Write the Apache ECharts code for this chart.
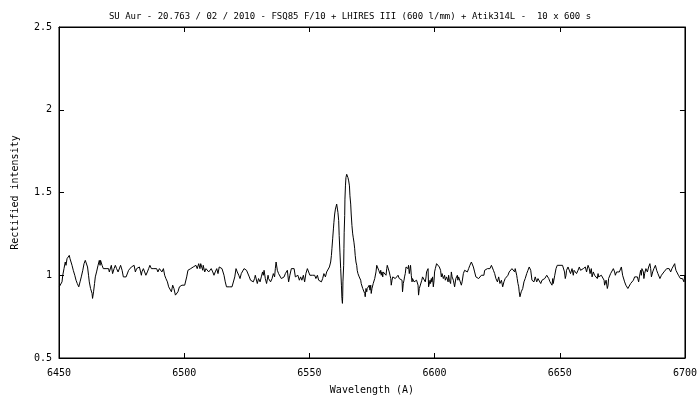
<!DOCTYPE html>
<html><head><meta charset="utf-8">
<script src="https://cdn.jsdelivr.net/npm/echarts@6/dist/echarts.min.js"></script>
<style>html,body{margin:0;padding:0;background:#fff}#c{width:700px;height:400px}</style>
</head><body><div id="c"></div>
<script>
const titleText = "SU Aur - 20.763 / 02 / 2010 - FSQ85 F/10 + LHIRES III (600 l/mm) + Atik314L -  10 x 600 s";
const xAxisName = "Wavelength (A)";
const yAxisName = "Rectified intensity";
const xTicks = [6450, 6500, 6550, 6600, 6650, 6700];
const yTicks = [0.5, 1, 1.5, 2, 2.5];

const wavelength = [
6450.1,6450.7,6451.2,6451.5,6452.0,6452.5,6452.8,6453.2,6453.6,6454.1,6454.4,6454.8,6455.2,6455.7,6456.3,6456.8,6457.3,6457.9,6458.4,6458.9,
6459.5,6460.0,6460.5,6461.0,6461.4,6461.8,6462.1,6462.6,6463.2,6463.4,6463.8,6464.2,6464.5,6465.0,6465.6,6466.1,6466.4,6466.6,6467.2,6467.7,
6468.2,6468.8,6469.3,6469.8,6470.1,6470.5,6470.9,6471.4,6472.0,6472.5,6473.0,6473.6,6474.1,6474.6,6475.2,6475.7,6476.2,6476.8,6477.3,6477.8,
6478.4,6478.9,6479.4,6480.0,6480.5,6481.0,6481.5,6482.1,6482.6,6482.9,6483.1,6483.7,6484.2,6484.7,6485.3,6485.8,6486.3,6486.9,6487.4,6487.9,
6488.5,6489.0,6489.5,6490.1,6490.6,6491.1,6491.7,6492.2,6492.7,6493.3,6493.8,6494.3,6494.9,6495.4,6495.9,6496.5,6497.0,6497.5,6498.1,6498.6,
6499.1,6499.7,6500.2,
6500.5,6501.0,6501.5,6502.1,6502.6,6503.1,6503.6,6504.2,6504.7,6505.2,6505.8,6506.3,6506.6,6506.8,6507.1,6507.4,6507.6,6508.2,6508.7,6509.2,
6509.8,6510.3,6510.8,6511.4,6511.9,6512.4,6513.0,6513.5,6514.0,6514.6,6515.1,6515.6,6515.9,6516.4,6516.9,6517.5,6518.0,6518.6,6519.1,6519.6,
6520.2,6520.7,6520.9,6521.2,6521.8,6522.3,6522.8,6523.3,6523.9,6524.4,6524.9,6525.5,6526.0,6526.5,6527.1,6527.6,6528.1,6528.4,6528.7,6529.2,
6529.7,6530.3,6530.8,6531.3,6531.6,6531.9,6532.4,6532.9,6533.2,6533.5,6533.7,6534.0,6534.5,6535.1,6535.6,6536.1,6536.4,6536.7,6536.9,6537.2,
6537.7,6538.3,6538.8,6539.3,6539.9,6540.4,6540.7,6541.2,6541.7,6542.2,6542.8,6543.3,6543.9,6544.4,6544.9,6545.4,6546.0,6546.5,6547.0,6547.6,
6548.1,6548.6,6549.2,6549.7,6550.2,6550.8,6551.3,
6551.6,6552.1,6552.6,6553.2,6553.7,6554.2,6554.8,6555.3,6555.8,6556.4,6556.9,6557.4,6558.0,6558.5,6558.8,6559.0,6559.3,6559.6,6559.8,6560.1,
6560.4,6560.6,6560.9,6561.2,6561.4,6561.7,6561.9,6562.2,6562.5,6562.8,6563.0,6563.2,6563.3,6563.4,6563.7,6563.8,6563.9,6564.1,6564.2,6564.4,
6564.6,6564.9,6565.2,6565.4,6565.7,6566.0,6566.2,6566.5,6566.7,6567.0,6567.3,6567.5,6567.8,6568.1,6568.3,6568.6,6568.9,6569.1,6569.4,6569.7,
6569.9,6570.2,6570.5,6570.7,6571.0,6571.3,6571.5,6571.8,6572.1,6572.3,6572.6,6572.9,6573.1,6573.4,6573.7,6573.9,6574.2,6574.5,6574.7,6575.0,
6575.5,6576.1,6576.6,6576.9,6577.1,6577.4,6577.7,6577.9,6578.2,6578.5,6578.7,6579.0,6579.3,6579.5,6579.8,6580.1,6580.6,6580.9,6581.1,6581.4,
6581.7,6581.9,6582.2,6582.5,6582.7,6583.0,6583.3,6583.8,6584.3,6584.9,6585.4,6585.9,6586.4,6587.0,6587.2,6587.5,6587.8,6588.0,6588.3,6588.6,
6588.8,6589.1,6589.4,6589.6,6589.9,6590.2,6590.4,6590.7,6591.0,6591.2,6591.5,6591.8,6592.3,6592.8,6593.4,6593.6,6593.9,6594.4,6594.9,6595.2,
6595.8,6596.3,6596.6,6596.8,6597.1,6597.4,6597.6,6597.9,6598.2,6598.4,6598.7,6598.9,6599.2,6599.5,6599.8,6600.0,6600.3,
6600.8,6601.4,6601.9,6602.4,6602.7,6603.0,6603.5,6604.0,6604.3,6604.8,6605.4,6605.6,6605.9,6606.4,6606.7,6607.0,6607.5,6608.0,6608.5,6609.1,
6609.3,6609.6,6610.1,6610.7,6611.0,6611.5,6612.0,6612.5,6613.1,6613.6,6614.1,6614.7,6615.2,6615.5,6616.0,6616.5,6617.1,6617.6,6618.1,6618.7,
6619.2,6619.7,6620.0,6620.5,6621.1,6621.6,6622.1,6622.7,6623.2,6623.5,6624.0,6624.5,6625.1,6625.6,6626.1,6626.7,6627.2,6627.7,6628.2,6628.8,
6629.3,6629.8,6630.4,6630.9,6631.4,6632.0,6632.2,6632.5,6632.8,6633.0,6633.3,6633.6,6633.8,6634.1,6634.4,6634.6,6635.2,6635.7,6636.2,6636.8,
6637.3,6637.8,6638.4,6638.6,6638.9,6639.4,6639.7,6640.2,6640.8,6641.3,6641.8,6642.4,6642.9,6643.4,6644.0,6644.5,6644.8,6645.0,6645.6,6646.1,
6646.6,6646.9,6647.2,6647.4,6648.0,6648.5,6649.0,6649.5,6650.1,6650.6,6651.1,
6651.4,6651.9,6652.2,6652.5,6652.7,6653.3,6653.8,6654.3,6654.9,6655.4,6655.7,6656.2,6656.7,6657.3,6657.8,6658.3,6658.9,6659.4,6659.7,6660.2,
6660.7,6661.3,6661.5,6661.8,6662.1,6662.6,6662.9,6663.4,6663.9,6664.5,6665.0,6665.3,6665.5,6666.1,6666.6,6667.1,6667.7,6667.9,6668.2,6668.5,
6669.0,6669.3,6669.5,6670.0,6670.3,6670.8,6671.4,6671.9,6672.2,6672.7,6673.2,6673.8,6674.3,6674.6,6674.8,6675.1,6675.4,6675.9,6676.2,6676.4,
6677.0,6677.2,6677.8,6678.3,6678.8,6679.4,6679.9,6680.4,6681.0,6681.5,6681.8,6682.3,6682.6,6682.8,6683.4,6683.6,6683.9,6684.4,6685.0,6685.5,
6686.0,6686.3,6686.6,6687.1,6687.6,6688.2,6688.7,6689.2,6689.8,6690.0,6690.6,6691.1,6691.6,6692.2,6692.7,6693.2,6693.7,6694.3,6694.8,6695.3,
6695.9,6696.1,6696.4,6696.9,6697.4,6698.0,6698.2,6698.5,6699.0,6699.6,6699.9
];
const intensity = [
0.93,0.94,0.96,1.00,1.04,1.08,1.06,1.10,1.09,1.12,1.10,1.08,1.06,1.03,1.00,0.97,0.95,0.93,0.96,0.99,
1.03,1.07,1.09,1.08,1.05,1.00,0.96,0.92,0.89,0.86,0.90,0.95,0.99,1.02,1.06,1.09,1.06,1.09,1.06,1.04,
1.05,1.04,1.05,1.04,1.02,1.03,1.06,1.01,1.04,1.06,1.04,1.02,1.03,1.06,1.03,0.99,1.00,0.99,1.00,1.03,
1.04,1.05,1.04,1.06,1.02,1.04,1.04,1.05,1.02,1.00,1.02,1.04,1.02,1.00,1.02,1.04,1.06,1.04,1.04,1.04,
1.03,1.04,1.02,1.04,1.03,1.02,1.04,1.00,0.98,0.96,0.93,0.92,0.90,0.94,0.92,0.88,0.87,0.90,0.93,0.94,
0.94,0.95,0.94,
0.95,0.99,1.03,1.02,1.04,1.03,1.05,1.04,1.06,1.04,1.07,1.04,1.07,1.06,1.08,1.03,1.06,1.02,1.04,1.05,
1.02,1.03,1.04,1.02,1.00,1.02,1.04,1.01,1.05,1.06,1.04,1.04,1.00,0.96,0.93,0.92,0.93,0.92,0.93,0.94,
0.99,1.04,1.05,1.02,1.00,0.98,1.01,1.02,1.04,1.04,1.03,1.02,0.99,0.97,0.96,0.96,0.98,1.00,0.99,0.95,
0.98,0.96,0.99,1.02,1.00,1.03,0.98,0.95,0.96,1.00,0.98,0.99,0.96,0.98,1.01,0.99,1.04,1.08,1.07,1.03,
1.01,1.00,0.98,0.97,0.99,1.01,1.00,1.03,0.96,1.00,1.04,1.05,1.04,0.99,0.98,1.00,0.97,0.99,0.97,1.00,
0.96,1.01,1.04,1.03,1.00,1.00,1.00,
1.01,1.00,0.98,1.00,0.97,0.98,0.96,0.98,1.01,0.99,1.02,1.01,1.05,1.08,1.12,1.16,1.22,1.28,1.32,1.37,
1.40,1.41,1.43,1.40,1.38,1.33,1.24,1.14,1.04,0.94,0.86,0.83,0.87,0.96,1.06,1.16,1.26,1.36,1.46,1.54,
1.59,1.61,1.62,1.59,1.57,1.54,1.48,1.43,1.37,1.30,1.25,1.23,1.20,1.16,1.12,1.08,1.06,1.03,1.01,1.00,
0.99,1.00,0.97,0.95,0.94,0.92,0.91,0.92,0.89,0.87,0.92,0.90,0.92,0.93,0.92,0.94,0.91,0.94,0.89,0.92,
0.95,0.98,1.02,1.06,1.07,1.06,1.03,1.04,1.01,1.03,1.00,1.02,0.99,1.02,1.01,1.03,1.00,1.04,1.06,1.07,
1.05,1.02,1.00,0.98,0.94,0.97,0.99,1.00,0.98,0.99,1.00,0.98,0.99,0.97,0.90,0.95,0.97,0.99,1.01,1.05,
1.06,1.06,1.04,1.06,1.01,1.04,1.06,1.00,0.96,0.98,0.97,0.96,0.97,0.97,0.94,0.88,0.92,0.93,0.97,0.99,
0.98,0.96,0.99,1.02,1.01,1.04,0.93,0.94,0.97,0.95,0.98,0.96,0.99,0.93,0.97,1.02,1.04,
1.07,1.08,1.05,1.03,0.99,1.01,0.98,1.00,0.97,0.99,0.96,1.00,0.97,0.95,1.02,0.99,0.97,0.93,0.98,1.00,
0.97,0.99,1.00,0.94,0.96,1.01,1.03,1.04,1.02,1.04,1.06,1.08,1.07,1.05,1.02,0.99,1.00,0.98,0.99,1.00,
1.01,1.00,1.03,1.02,1.04,1.03,1.04,1.06,1.05,1.03,1.01,0.98,0.96,0.99,0.95,0.97,0.93,0.96,0.98,0.99,
1.00,1.02,1.03,1.04,1.05,1.02,1.04,1.02,1.00,0.98,0.95,0.93,0.90,0.87,0.88,0.90,0.92,0.96,0.98,1.01,
1.03,1.05,1.03,1.02,0.97,0.98,0.96,0.99,0.96,0.98,0.97,0.95,0.97,0.96,0.98,0.99,1.00,0.99,0.98,0.96,
0.97,0.94,0.98,0.95,1.00,1.04,1.06,1.06,1.06,1.06,1.06,
1.05,1.02,0.98,1.00,1.03,1.05,1.04,1.01,1.04,1.00,1.03,1.04,1.01,1.03,1.05,1.03,1.04,1.04,1.03,1.05,
1.02,1.06,1.07,1.04,1.01,1.04,0.99,1.02,1.00,0.99,0.98,1.01,0.99,0.99,1.00,0.99,0.97,0.94,0.95,0.97,
0.92,0.94,0.98,0.99,1.01,1.02,1.04,1.02,1.00,1.02,1.01,1.02,1.03,1.05,1.04,1.00,1.01,0.96,0.97,0.94,
0.95,0.92,0.93,0.95,0.96,0.97,0.99,1.00,0.99,0.96,0.99,1.03,1.00,1.04,1.02,0.98,1.01,1.04,1.02,1.05,
1.07,1.04,0.99,1.02,1.04,1.06,1.03,1.01,1.02,0.98,1.00,1.01,1.02,1.02,1.04,1.03,1.04,1.02,1.04,1.05,
1.07,1.05,1.03,1.02,1.00,1.01,0.98,0.99,0.98,0.96,1.00
];

const font = "DejaVu Sans Mono";
const data = wavelength.map((w, i) => [w, intensity[i]]);
const chart = echarts.init(document.getElementById('c'), null, {renderer: 'canvas'});
const tickStyle = {show: true, inside: true, length: 5, lineStyle: {color: '#000', width: 1}};
chart.setOption({
  animation: false,
  backgroundColor: '#fff',
  title: {text: titleText, left: 'center', top: 7,
    textStyle: {fontFamily: font, fontSize: 9, fontWeight: 'normal', color: '#000'}},
  grid: {left: 59, right: 14, top: 27, bottom: 42, show: true, borderColor: '#000', borderWidth: 1},
  xAxis: [{
    type: 'value', min: xTicks[0], max: xTicks[xTicks.length-1], interval: 50, position: 'bottom',
    name: xAxisName, nameLocation: 'middle', nameGap: 27,
    nameTextStyle: {fontFamily: font, fontSize: 10, color: '#000'},
    axisLine: {show: true, lineStyle: {color: '#000', width: 1}},
    axisTick: tickStyle, splitLine: {show: false},
    axisLabel: {fontFamily: font, fontSize: 10, color: '#000', margin: 10, showMinLabel: true, showMaxLabel: true,
      formatter: v => String(v)}
  }, {
    type: 'value', min: xTicks[0], max: xTicks[xTicks.length-1], interval: 50, position: 'top',
    axisLine: {show: true, lineStyle: {color: '#000', width: 1}},
    axisTick: tickStyle, splitLine: {show: false}, axisLabel: {show: false}
  }],
  yAxis: [{
    type: 'value', min: yTicks[0], max: yTicks[yTicks.length-1], interval: 0.5, position: 'left',
    name: yAxisName, nameLocation: 'middle', nameGap: 39, nameRotate: 90,
    nameTextStyle: {fontFamily: font, fontSize: 10, color: '#000'},
    axisLine: {show: true, lineStyle: {color: '#000', width: 1}},
    axisTick: tickStyle, splitLine: {show: false},
    axisLabel: {fontFamily: font, fontSize: 10, color: '#000', margin: 7, formatter: v => String(v)}
  }, {
    type: 'value', min: yTicks[0], max: yTicks[yTicks.length-1], interval: 0.5, position: 'right',
    axisLine: {show: true, lineStyle: {color: '#000', width: 1}},
    axisTick: tickStyle, splitLine: {show: false}, axisLabel: {show: false}
  }],
  series: [{
    type: 'line', data: data, xAxisIndex: 0, yAxisIndex: 0,
    showSymbol: false, symbol: 'none', smooth: false,
    lineStyle: {color: '#000', width: 1}, clip: true
  }]
});
</script></body></html>
